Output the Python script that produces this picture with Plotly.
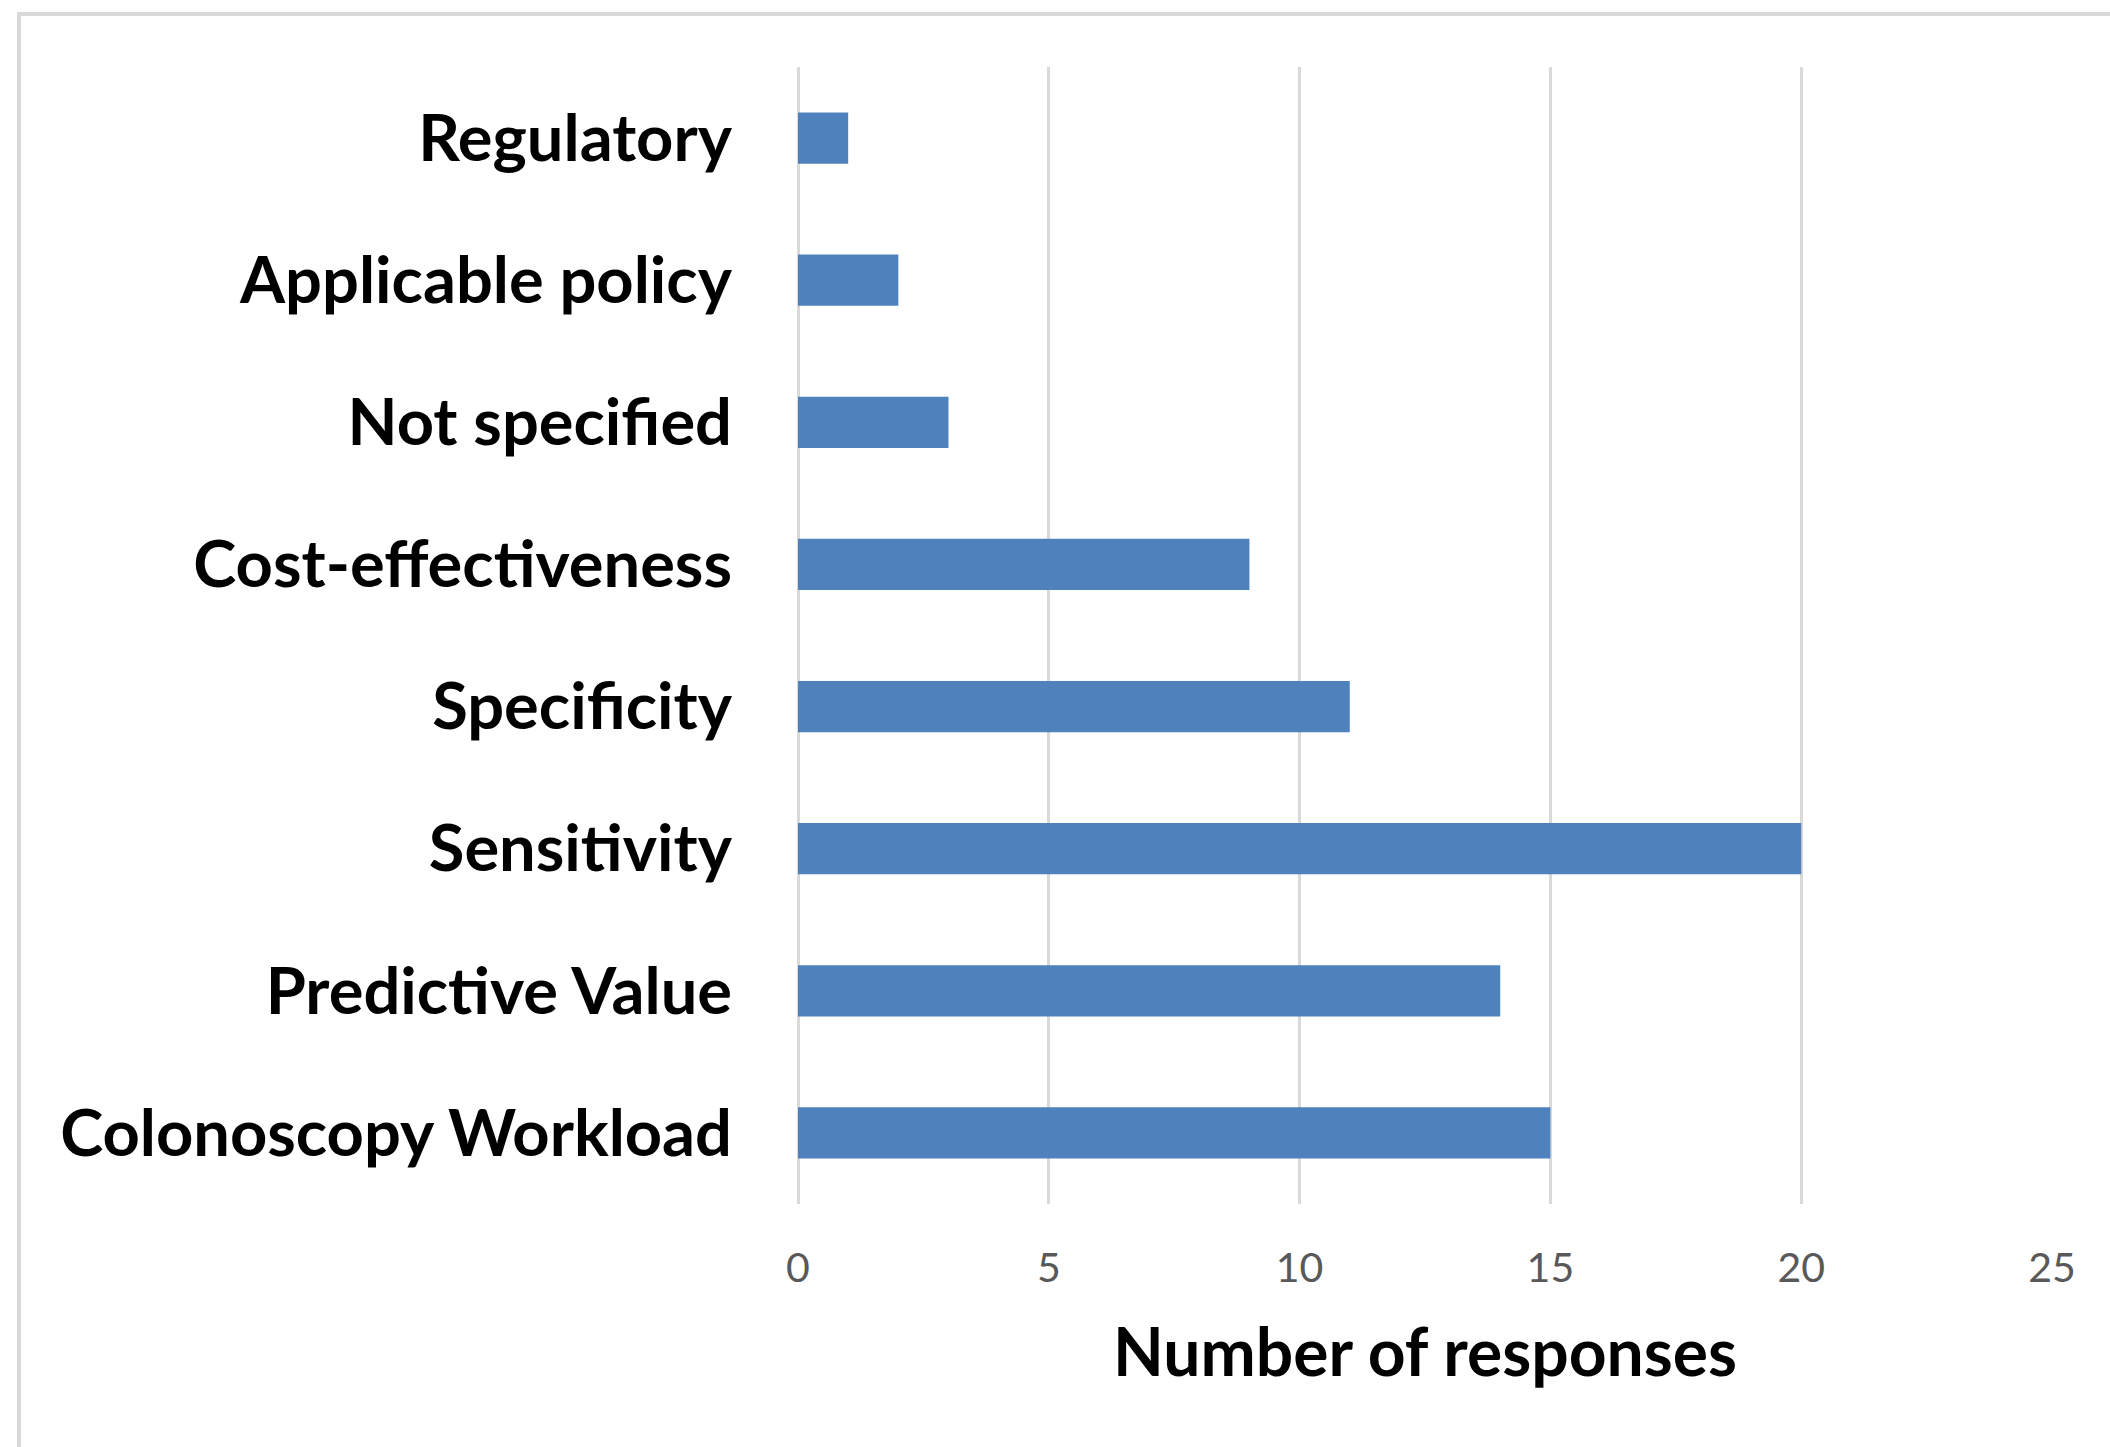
import plotly.graph_objects as go

categories = ["Colonoscopy Workload", "Predictive Value", "Sensitivity", "Specificity",
              "Cost-effectiveness", "Not specified", "Applicable policy", "Regulatory"]
responses = [15, 14, 20, 11, 9, 3, 2, 1]
x_ticks = [0, 5, 10, 15, 20, 25]
x_title = "Number of responses"

W, H = 2110, 1447
ML, MR, MT, MB = 798, 58, 67, 243
PW, PH = W - ML - MR, H - MT - MB

def px_x(p):
    return (p - ML) / PW

def px_y(p):
    return (H - MB - p) / PH

FONT = "Lato, 'Open Sans', sans-serif"

fig = go.Figure(go.Bar(
    y=categories, x=responses, orientation="h",
    marker=dict(color="#4F81BD", line=dict(width=0)),
))

fig.update_layout(
    width=W, height=H,
    margin=dict(l=ML, r=MR, t=MT, b=MB),
    paper_bgcolor="white", plot_bgcolor="white",
    bargap=0.64,
    showlegend=False,
    font=dict(family=FONT),
    xaxis=dict(
        range=[0, 25], tickvals=x_ticks, ticktext=[str(v) for v in x_ticks],
        showgrid=True, gridcolor="#d9d9d9", gridwidth=3,
        zeroline=True, zerolinecolor="#d9d9d9", zerolinewidth=3,
        showline=False,
        ticks="outside", ticklen=28, tickcolor="rgba(0,0,0,0)",
        tickfont=dict(family=FONT, size=41, color="#595959"),
    ),
    yaxis=dict(
        categoryorder="array", categoryarray=categories,
        range=[-0.5, 7.5],
        showgrid=False, zeroline=False, showline=False,
        ticks="outside", ticklen=52, tickcolor="rgba(0,0,0,0)",
        tickfont=dict(family=FONT, size=65, color="#000000", weight="bold"),
    ),
    annotations=[dict(
        text="<b>" + x_title + "</b>", xref="paper", yref="paper",
        x=0.5, y=0, xanchor="center", yanchor="middle", yshift=-146,
        showarrow=False, font=dict(family=FONT, size=66, color="#000000"),
    )],
    shapes=[
        dict(type="line", xref="paper", yref="paper",
             x0=px_x(19), x1=px_x(19), y0=px_y(14), y1=px_y(H + 5),
             line=dict(color="#d9d9d9", width=4)),
        dict(type="line", xref="paper", yref="paper",
             x0=px_x(17), x1=px_x(W + 5), y0=px_y(14), y1=px_y(14),
             line=dict(color="#d9d9d9", width=4)),
    ],
)

fig.write_html("out.html")
